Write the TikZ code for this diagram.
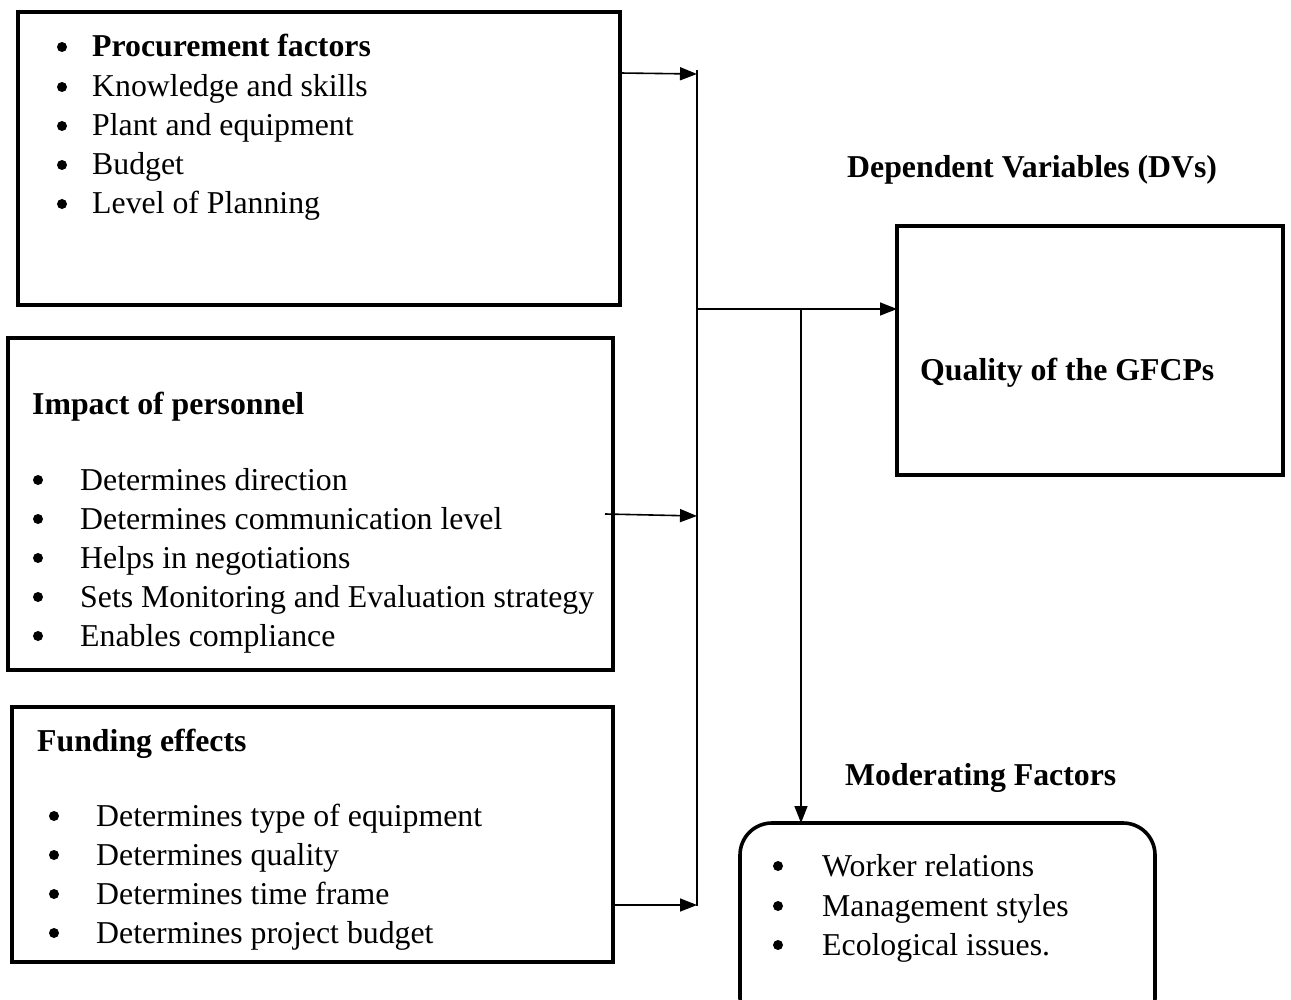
\documentclass[tikz,border=0pt]{standalone}
\usepackage{fontspec}
\setmainfont{Liberation Serif}
\usetikzlibrary{arrows.meta}
\begin{document}
\begin{tikzpicture}[x=1pt,y=-1pt,
  boxline/.style={line width=3.6pt},
  conn/.style={line width=1.6pt},
  arr/.style={conn,-{Triangle[length=17pt,width=13pt]}},
  txt/.style={anchor=base west,inner sep=0pt,font=\fontsize{31.8}{38}\selectfont},
  btxt/.style={txt,font=\fontsize{31.8}{38}\selectfont\bfseries},
  bul/.style={circle,fill,inner sep=0pt,minimum size=10pt}]
\useasboundingbox (0,0) rectangle (1291,1000);
% boxes
\draw[boxline] (18,12) rectangle (620,305);
\draw[boxline] (8,338) rectangle (613,670);
\draw[boxline] (12,707) rectangle (613,962);
\draw[boxline] (897,226) rectangle (1283,475);
\begin{scope}
\clip (0,0) rectangle (1291,1000);
\draw[boxline,rounded corners=32pt] (740,823) rectangle (1155,1030);
\end{scope}
% box 1 texts
\foreach \y/\t [count=\i] in {97/Knowledge and skills,136/Plant and equipment,175/Budget,214/Level of Planning}{
  \node[bul] (b1\i) at (62,\y-10) {};
  \node[txt] (t1\i) at (92,\y) {\t};
}
\node[bul] (b10) at (62,47) {};
\node[btxt] (t10) at (92,57) {Procurement factors};
% box 2 texts
\node[btxt] (h2) at (32,414) {Impact of personnel};
\foreach \y/\t [count=\i] in {490/Determines direction,529/Determines communication level,568/Helps in negotiations,607/Sets Monitoring and Evaluation strategy,646/Enables compliance}{
  \node[bul] (b2\i) at (38,\y-10) {};
  \node[txt] (t2\i) at (80,\y) {\t};
}
% box 3 texts
\node[btxt] (h3) at (37,751) {Funding effects};
\foreach \y/\t [count=\i] in {826/Determines type of equipment,865/Determines quality,904/Determines time frame,943/Determines project budget}{
  \node[bul] (b3\i) at (54,\y-10) {};
  \node[txt] (t3\i) at (96,\y) {\t};
}
% right side labels
\node[btxt] (dv) at (847,178) {Dependent Variables (DVs)};
\node[btxt] (q) at (920,381) {Quality of the GFCPs};
\node[btxt] (mf) at (845,785) {Moderating Factors};
\foreach \y/\t [count=\i] in {876/Worker relations,916/Management styles,955/Ecological issues.}{
  \node[bul] (b4\i) at (778,\y-10) {};
  \node[txt] (t4\i) at (822,\y) {\t};
}
% connectors
\coordinate (vtop) at (697,70);
\coordinate (vbot) at (697,906);
\coordinate (a1s) at (620,73);
\coordinate (a1e) at (697,74);
\coordinate (a2s) at (605,514);
\coordinate (a2e) at (697,516);
\coordinate (a3s) at (613,905);
\coordinate (a3e) at (697,905);
\coordinate (hs) at (697,309);
\coordinate (he) at (897,309);
\coordinate (ms) at (801,309);
\coordinate (me) at (801,823);
\draw[conn] (vtop) -- (vbot);
\draw[arr] (a1s) -- (a1e);
\draw[arr] (a2s) -- (a2e);
\draw[arr] (a3s) -- (a3e);
\draw[arr] (hs) -- (he);
\draw[arr] (ms) -- (me);
\end{tikzpicture}
\end{document}
